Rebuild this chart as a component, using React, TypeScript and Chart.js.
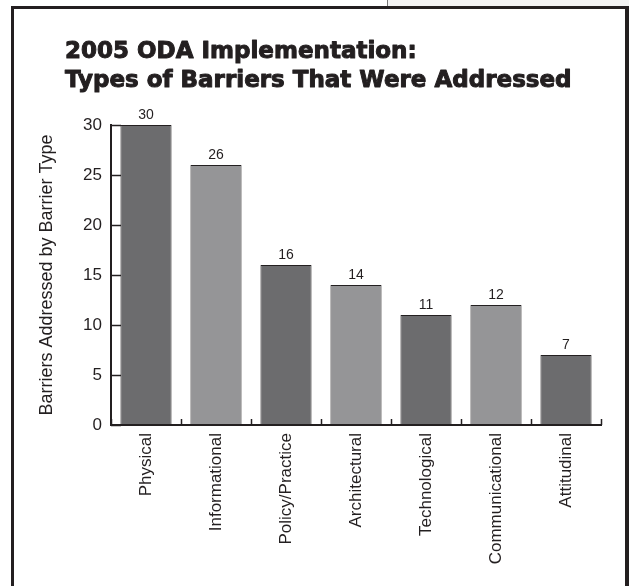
import React, { useEffect, useRef } from "react";
import { Chart, registerables } from "chart.js";

Chart.register(...registerables);

const categories = [
  "Physical",
  "Informational",
  "Policy/Practice",
  "Architectural",
  "Technological",
  "Communicational",
  "Attitudinal",
];
const barriersAddressed = [30, 26, 16, 14, 11, 12, 7];
const barColors = ["#6c6c6e", "#959597", "#6c6c6e", "#959597", "#6c6c6e", "#959597", "#6c6c6e"];
const yTicks = [0, 5, 10, 15, 20, 25, 30];
const titleLines = ["2005 ODA Implementation:", "Types of Barriers That Were Addressed"];
const yAxisTitle = "Barriers Addressed by Barrier Type";

const INK = "#231f20";
const SANS = "'Liberation Sans', Arial, sans-serif";

const decorPlugin = {
  id: "decor",
  afterDatasetsDraw(chart: any) {
    const { ctx, chartArea, scales } = chart;
    const x = scales.x;
    const y = scales.y;
    ctx.save();
    ctx.strokeStyle = INK;
    ctx.lineWidth = 1.5;
    // inward y tick marks
    for (const v of yTicks) {
      const py = Math.round(y.getPixelForValue(v)) + 0.5;
      ctx.beginPath();
      ctx.moveTo(chartArea.left, py);
      ctx.lineTo(chartArea.left + 10, py);
      ctx.stroke();
    }
    // upward category boundary ticks
    const n = categories.length;
    const step = n > 1 ? x.getPixelForValue(1) - x.getPixelForValue(0) : chartArea.right - chartArea.left;
    for (let i = 0; i <= n; i++) {
      const px = Math.round(x.getPixelForValue(Math.min(i, n - 1)) + (i < n ? -step / 2 : step / 2)) + 0.5;
      ctx.beginPath();
      ctx.moveTo(px, chartArea.bottom);
      ctx.lineTo(px, chartArea.bottom - 6);
      ctx.stroke();
    }
    // value labels
    ctx.fillStyle = INK;
    ctx.font = `14px ${SANS}`;
    ctx.textAlign = "center";
    ctx.textBaseline = "bottom";
    const meta = chart.getDatasetMeta(0);
    meta.data.forEach((bar: any, i: number) => {
      ctx.fillText(String(barriersAddressed[i]), bar.x, bar.y - 3);
    });
    // title
    ctx.textAlign = "left";
    ctx.textBaseline = "alphabetic";
    ctx.font = "bold 23px 'DejaVu Sans', sans-serif";
    ctx.lineWidth = 1;
    ctx.lineJoin = "round";
    ctx.fillText(titleLines[0], 65, 58);
    ctx.strokeText(titleLines[0], 65, 58);
    ctx.fillText(titleLines[1], 65, 87);
    ctx.strokeText(titleLines[1], 65, 87);
    ctx.restore();
  },
};

export default function App() {
  const canvasRef = useRef<HTMLCanvasElement | null>(null);

  useEffect(() => {
    const canvas = canvasRef.current;
    if (!canvas) return;
    const chart = new Chart(canvas, {
      type: "bar",
      data: {
        labels: categories,
        datasets: [
          {
            data: barriersAddressed,
            backgroundColor: barColors,
            borderColor: INK,
            borderWidth: 1,
            borderSkipped: false,
            barPercentage: 0.73,
            categoryPercentage: 1,
          },
        ],
      },
      plugins: [decorPlugin],
      options: {
        responsive: false,
        animation: false,
        layout: { padding: { top: 125, left: 0, right: 28, bottom: 0 } },
        plugins: {
          legend: { display: false },
          tooltip: { enabled: false },
          title: { display: false },
        },
        scales: {
          x: {
            grid: { display: false, drawTicks: false },
            border: { display: true, color: INK, width: 2 },
            ticks: {
              autoSkip: false,
              maxRotation: 90,
              minRotation: 90,
              padding: 8,
              color: INK,
              font: { size: 17, family: SANS },
            },
            afterFit: (s: any) => {
              s.height = 161;
            },
          },
          y: {
            min: 0,
            max: 30,
            grid: { display: false, drawTicks: false },
            border: { display: true, color: INK, width: 2 },
            ticks: {
              stepSize: 5,
              padding: 9,
              color: INK,
              font: { size: 17, family: SANS },
            },
            title: {
              display: true,
              text: yAxisTitle,
              color: INK,
              font: { size: 18, family: SANS },
              padding: { top: 36, bottom: 0 },
            },
            afterFit: (s: any) => {
              s.width = 111;
            },
          },
        },
      },
    });
    return () => chart.destroy();
  }, []);

  return (
    <div style={{ position: "fixed", left: 0, top: 0, width: 629, height: 586, background: "#ffffff", overflow: "hidden" }}>
      <div style={{ position: "absolute", left: 388, top: 0, width: 241, height: 7, background: "#f3f3f3" }} />
      <div style={{ position: "absolute", left: 387, top: 0, width: 1, height: 7, background: "#777777" }} />
      <div
        style={{
          position: "absolute",
          left: 11,
          top: 6,
          width: 618,
          height: 620,
          boxSizing: "border-box",
          borderLeft: `3px solid ${INK}`,
          borderTop: `3px solid ${INK}`,
          borderRight: `4px solid ${INK}`,
        }}
      />
      <canvas ref={canvasRef} width={629} height={586} style={{ position: "absolute", left: 0, top: 0 }} />
    </div>
  );
}
